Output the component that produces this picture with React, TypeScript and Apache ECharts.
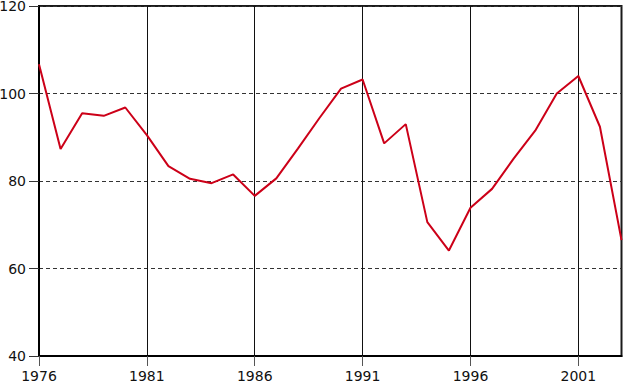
import React, { useEffect, useRef } from "react";
import * as echarts from "echarts";

const years: string[] = [
  "1976", "1977", "1978", "1979", "1980", "1981", "1982", "1983", "1984", "1985",
  "1986", "1987", "1988", "1989", "1990", "1991", "1992", "1993", "1994", "1995",
  "1996", "1997", "1998", "1999", "2000", "2001", "2002", "2003",
];

const values: number[] = [
  106.7, 87.3, 95.5, 94.9, 96.8, 90.5, 83.4, 80.5, 79.5, 81.5,
  76.6, 80.6, 87.4, 94.4, 101.1, 103.2, 88.6, 93.0, 70.6, 64.1,
  73.9, 78.2, 85.1, 91.5, 100.0, 104.0, 92.4, 66.5,
];

const yMin = 40;
const yMax = 120;
const yStep = 20;

export default function App() {
  const ref = useRef<HTMLDivElement>(null);

  useEffect(() => {
    document.body.style.margin = "0";
    if (!ref.current) return;
    const chart = echarts.init(ref.current, undefined, { renderer: "svg" });
    chart.setOption({
      animation: false,
      backgroundColor: "#ffffff",
      textStyle: { fontFamily: "DejaVu Sans" },
      grid: {
        left: 39,
        right: 1.5,
        top: 6,
        bottom: 27,
        show: true,
        borderColor: "#1a1a1a",
        borderWidth: 2,
        backgroundColor: "transparent",
        containLabel: false,
        outerBoundsMode: "none",
      },
      xAxis: {
        type: "category",
        data: years,
        boundaryGap: false,
        axisLine: { show: true, lineStyle: { color: "#000", width: 2 } },
        axisTick: {
          show: true,
          interval: 4,
          length: 10,
          inside: false,
          lineStyle: { color: "#555", width: 1 },
        },
        axisLabel: {
          interval: 4,
          margin: 13,
          color: "#111",
          fontSize: 14,
          fontFamily: "DejaVu Sans",
        },
        splitLine: {
          show: true,
          interval: 4,
          lineStyle: { color: "#111", width: 1, type: "solid" },
        },
      },
      yAxis: {
        type: "value",
        min: yMin,
        max: yMax,
        interval: yStep,
        axisLine: { show: true, lineStyle: { color: "#000", width: 2 } },
        axisTick: {
          show: true,
          length: 10,
          inside: false,
          lineStyle: { color: "#333", width: 1 },
        },
        axisLabel: {
          margin: 13,
          color: "#111",
          fontSize: 14,
          fontFamily: "DejaVu Sans",
        },
        splitLine: {
          show: true,
          lineStyle: { color: "#333", width: 1, type: [4, 3] },
        },
      },
      series: [
        {
          type: "line",
          data: values,
          showSymbol: false,
          symbol: "none",
          lineStyle: { color: "#cc0018", width: 2 },
          itemStyle: { color: "#cc0018" },
        },
      ],
    });
    return () => chart.dispose();
  }, []);

  return (
    <div
      ref={ref}
      style={{ position: "absolute", left: 0, top: 0, width: 623, height: 383 }}
    />
  );
}
